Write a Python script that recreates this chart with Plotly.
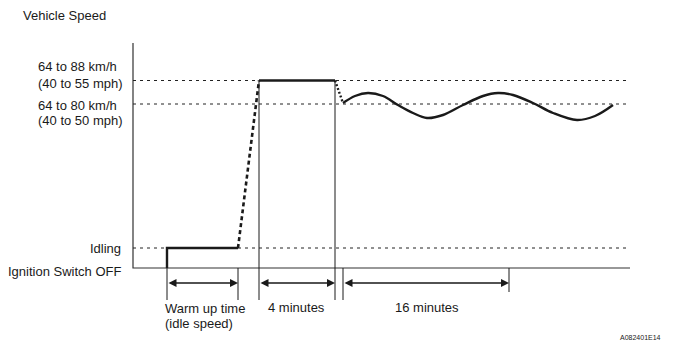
import plotly.graph_objects as go

# ---- data (schematic units: time along x, speed along y) ----
level_values = [0, 20, 164, 187.5]

t_ignition = 34
t_warm_end = 105
t_ramp_end = 126
t_4min_end = 202
t_cruise_start = 210
t_16min_end = 376
t_axis_end = 497
axis_top = 225

idle_t = [34, 34, 105]
idle_v = [0, 20, 20]
ramp_t = [105, 126]
ramp_v = [20, 187.5]
hold_t = [126, 202]
hold_v = [187.5, 187.5]
drop_t = [202, 210]
drop_v = [187.5, 165]
wave_t = [210, 222, 235, 250, 265, 280, 294, 310, 330, 350, 365, 380, 400, 420, 444, 462, 480]
wave_v = [165, 172, 175, 172, 163, 155, 150, 153, 163, 172, 175, 173, 165, 155, 148, 152, 163]

period_start = [34, 126, 210]
period_end = [105, 202, 376]

# text labels: (text, x, y, xanchor)
labels = [
    ("Vehicle Speed", -112, 253, "left"),
    ("64 to 88 km/h", -97, 202, "left"),
    ("(40 to 55 mph)", -97, 185, "left"),
    ("64 to 80 km/h", -97, 163, "left"),
    ("(40 to 50 mph)", -97, 148, "left"),
    ("Idling", -10, 20, "right"),
    ("Ignition Switch OFF", -10, -3, "right"),
    ("Warm up time", 30, -40, "left"),
    ("(idle speed)", 30, -55, "left"),
    ("4 minutes", 163, -39, "center"),
    ("16 minutes", 294, -39, "center"),
]

FONT = "Liberation Sans, Arial, sans-serif"
INK = "#1a1a1a"

fig = go.Figure()

def line(x, y, width=1, dash="solid", color=INK):
    fig.add_trace(go.Scatter(x=x, y=y, mode="lines", hoverinfo="skip", showlegend=False,
                             line=dict(color=color, width=width, dash=dash)))

# axes
line([0, 0, t_axis_end], [axis_top, 0, 0], width=1.2, color="#333")
# reference dashed levels
for v in level_values[1:]:
    line([0, t_axis_end], [v, v], width=1, dash="3px,4px", color="#222")
# period boundary verticals
tick_bottom = -32
line([t_ignition, t_ignition], [0, tick_bottom])
line([t_warm_end, t_warm_end], [0, tick_bottom])
line([t_ramp_end, t_ramp_end], [ramp_v[1], tick_bottom])
line([t_4min_end, t_4min_end], [hold_v[1], tick_bottom])
line([t_cruise_start, t_cruise_start], [0, tick_bottom])
line([t_16min_end, t_16min_end], [0, -24])

# speed profile
line(idle_t, idle_v, width=2.4)
line(ramp_t, ramp_v, width=2.6, dash="4px,3px")
line(hold_t, hold_v, width=2.4)
line(drop_t, drop_v, width=2.4, dash="2px,2px")
fig.add_trace(go.Scatter(x=wave_t, y=wave_v, mode="lines", hoverinfo="skip", showlegend=False,
                         line=dict(color=INK, width=2.4, shape="spline")))

annotations = []
# double arrows
for s, e in zip(period_start, period_end):
    annotations.append(dict(x=e, y=-15, ax=s, ay=-15, xref="x", yref="y", axref="x", ayref="y",
                            text="", showarrow=True, arrowhead=2, startarrowhead=2,
                            arrowside="end+start", arrowsize=1, arrowwidth=1.6, arrowcolor=INK,
                            standoff=0, startstandoff=0))
for text, x, y, anchor in labels:
    annotations.append(dict(x=x, y=y, xref="x", yref="y", text=text, showarrow=False,
                            xanchor=anchor, align=anchor if anchor != "center" else "center",
                            font=dict(family=FONT, size=13, color=INK)))
# figure code
annotations.append(dict(x=530, y=-69, xref="x", yref="y", text="A082401E14", showarrow=False,
                        xanchor="right", font=dict(family=FONT, size=7, color=INK)))

# the page body has an 8px margin, so ranges are offset to keep marks in place
fig.update_layout(
    width=673, height=358,
    margin=dict(l=0, r=0, t=0, b=0),
    paper_bgcolor="white", plot_bgcolor="white",
    xaxis=dict(range=[-125, 548], visible=False, fixedrange=True),
    yaxis=dict(range=[-98, 260], visible=False, fixedrange=True),
    annotations=annotations,
    showlegend=False,
)

fig.write_html("out.html")
